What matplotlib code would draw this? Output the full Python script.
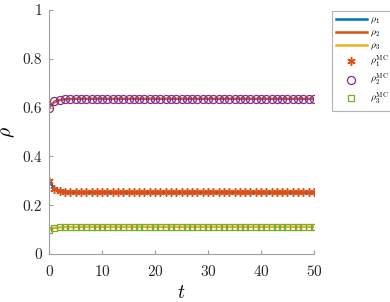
import numpy as np
import matplotlib
matplotlib.use('Agg')
import matplotlib.pyplot as plt

plt.rcParams['font.family'] = 'serif'
plt.rcParams['font.serif'] = ['cmr10']
plt.rcParams['mathtext.fontset'] = 'cm'
plt.rcParams['axes.formatter.use_mathtext'] = True

# time grid of the simulation (integer times)
t = np.arange(0, 51)

# mean-field solution
rho1 = np.array([0.300, 0.267, 0.259, 0.256, 0.254, 0.254] + [0.253] * 45)
rho2 = np.array([0.600, 0.624, 0.631, 0.634, 0.635, 0.636] + [0.636] * 45)
rho3 = np.array([0.100, 0.107, 0.109, 0.110, 0.110, 0.110] + [0.111] * 45)

# Monte Carlo estimates
rho1_mc = np.array([0.300, 0.267, 0.259, 0.255, 0.254, 0.253] + [0.253] * 45)
rho2_mc = np.array([0.600, 0.625, 0.632, 0.634, 0.635, 0.636] + [0.636] * 45)
rho3_mc = np.array([0.100, 0.107, 0.109, 0.110, 0.110, 0.110] + [0.111] * 45)

blue = '#0072BD'
orange = '#D95319'
yellow = '#EDB120'
purple = '#7E2F8E'
green = '#77AC30'

fig = plt.figure(figsize=(3.9, 3.02), dpi=100)
ax = fig.add_axes([0.126, 0.159, 0.679, 0.808])

ax.plot(t, rho1, color=blue, lw=1.8, label=r'$\rho_1$')
ax.plot(t, rho2, color=orange, lw=1.8, label=r'$\rho_2$')
ax.plot(t, rho3, color=yellow, lw=1.8, label=r'$\rho_3$')
ax.plot(t, rho1_mc, ls='none', marker=(6, 2, 0), ms=6, mfc=orange, mec=orange, mew=1.1,
        label=r'$\rho_1^{\rm MC}$')
ax.plot(t, rho2_mc, ls='none', marker='o', ms=5.8, mfc='none', mec=purple, mew=0.9,
        label=r'$\rho_2^{\rm MC}$')
ax.plot(t, rho3_mc, ls='none', marker='s', ms=4.8, mfc='none', mec=green, mew=0.9,
        label=r'$\rho_3^{\rm MC}$')

ax.set_xlim(0, 50)
ax.set_ylim(0, 1)
ax.set_xticks([0, 10, 20, 30, 40, 50])
ax.set_yticks([0, 0.2, 0.4, 0.6, 0.8, 1])
ax.set_yticklabels(['0', '0.2', '0.4', '0.6', '0.8', '1'])
for s in ['top', 'right']:
    ax.spines[s].set_visible(False)
for s in ['left', 'bottom']:
    ax.spines[s].set_color('#a0a0a0')
    ax.spines[s].set_linewidth(0.8)
ax.tick_params(axis='x', pad=7)
ax.tick_params(axis='y', pad=5)
ax.tick_params(direction='in', length=3, width=0.8, color='#a0a0a0',
               labelsize=11, labelcolor='#262626')
ax.set_xlabel(r'$t$', fontsize=14, labelpad=4)
ax.set_ylabel(r'$\rho$', fontsize=14, labelpad=4)

leg = fig.legend(loc='upper left', bbox_to_anchor=(0.851, 0.962), fontsize=7,
                 frameon=True, fancybox=False, edgecolor='#a0a0a0',
                 handlelength=3.2, handletextpad=0.3, borderpad=0.4,
                 labelspacing=0.25, borderaxespad=0)
leg.get_frame().set_linewidth(0.8)

fig.savefig('out.png', dpi=100)
